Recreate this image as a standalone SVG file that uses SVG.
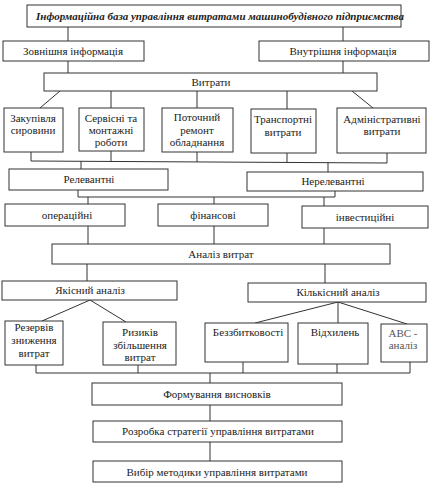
<svg xmlns="http://www.w3.org/2000/svg" width="433" height="485" viewBox="0 0 433 485">
<style>
rect{fill:#fff;stroke:#333;stroke-width:1}
#connectors line{stroke:#333;stroke-width:1;fill:none}
text{font-family:'Liberation Serif','Times New Roman','DejaVu Serif',serif;font-size:11px;fill:#222;text-anchor:middle}
.t{font-weight:bold;font-style:italic}
.g{fill:#555}
</style>
<rect x="0" y="0" width="433" height="485" style="fill:#fff;stroke:none"/>
<g id="connectors">
<line x1="68" y1="27" x2="68" y2="41"/>
<line x1="343" y1="27" x2="343" y2="41"/>
<line x1="68" y1="61" x2="68" y2="73"/>
<line x1="343" y1="61" x2="343" y2="73"/>
<line x1="60" y1="91" x2="40" y2="108"/>
<line x1="111" y1="91" x2="111" y2="108"/>
<line x1="197" y1="91" x2="197" y2="108"/>
<line x1="287" y1="91" x2="287" y2="109"/>
<line x1="352" y1="91" x2="373" y2="108"/>
<line x1="31" y1="152" x2="31" y2="161"/>
<line x1="111" y1="151" x2="111" y2="161"/>
<line x1="197" y1="152" x2="197" y2="162"/>
<line x1="287" y1="153" x2="287" y2="162"/>
<line x1="387" y1="153" x2="387" y2="163"/>
<line x1="31" y1="161" x2="387" y2="163"/>
<line x1="81" y1="161" x2="81" y2="169"/>
<line x1="328" y1="162" x2="328" y2="172"/>
<line x1="78" y1="190" x2="78" y2="197"/>
<line x1="335" y1="191" x2="335" y2="197"/>
<line x1="78" y1="197" x2="335" y2="197"/>
<line x1="88" y1="197" x2="88" y2="204"/>
<line x1="214" y1="197" x2="214" y2="204"/>
<line x1="324" y1="197" x2="324" y2="206"/>
<line x1="88" y1="226" x2="88" y2="244"/>
<line x1="214" y1="226" x2="214" y2="244"/>
<line x1="324" y1="228" x2="324" y2="244"/>
<line x1="87" y1="264" x2="87" y2="281"/>
<line x1="325" y1="264" x2="325" y2="283"/>
<line x1="90" y1="300" x2="42" y2="321"/>
<line x1="90" y1="300" x2="126" y2="322"/>
<line x1="338" y1="302" x2="255" y2="323"/>
<line x1="338" y1="302" x2="338" y2="323"/>
<line x1="338" y1="302" x2="407" y2="324"/>
<line x1="36" y1="365" x2="36" y2="373"/>
<line x1="138" y1="365" x2="138" y2="373"/>
<line x1="243" y1="362" x2="243" y2="373"/>
<line x1="337" y1="364" x2="337" y2="373"/>
<line x1="410" y1="362" x2="410" y2="373"/>
<line x1="36" y1="373" x2="410" y2="373"/>
<line x1="210" y1="373" x2="210" y2="383"/>
<line x1="210" y1="405" x2="210" y2="421"/>
<line x1="210" y1="442" x2="210" y2="461"/>
</g>
<g font-family="Liberation Serif, serif">
<g id="n-title"><rect x="27" y="5" width="374" height="22"/><text class="t" x="220" y="20">Інформаційна база управління витратами машинобудівного підприємства</text></g>
<g id="n-zovn"><rect x="3" y="41" width="141" height="20"/><text x="73" y="55">Зовнішня інформація</text></g>
<g id="n-vnutr"><rect x="259" y="41" width="170" height="20"/><text x="343" y="55">Внутрішня інформація</text></g>
<g id="n-vytraty"><rect x="44" y="73" width="333" height="18"/><text x="211" y="86">Витрати</text></g>
<g id="n-zakup"><rect x="4" y="108" width="59" height="44"/><text x="33" y="122">Закупівля</text><text x="33" y="134">сировини</text></g>
<g id="n-serv"><rect x="79" y="108" width="65" height="43"/><text x="111" y="122">Сервісні та</text><text x="111" y="134">монтажні</text><text x="111" y="146">роботи</text></g>
<g id="n-potoch"><rect x="162" y="108" width="71" height="44"/><text x="197" y="121">Поточний</text><text x="197" y="134">ремонт</text><text x="197" y="146">обладнання</text></g>
<g id="n-transp"><rect x="251" y="109" width="65" height="44"/><text x="283" y="123">Транспортні</text><text x="283" y="136">витрати</text></g>
<g id="n-admin"><rect x="337" y="108" width="89" height="45"/><text x="382" y="123">Адміністративні</text><text x="382" y="135">витрати</text></g>
<g id="n-relev"><rect x="9" y="169" width="159" height="21"/><text x="89" y="183">Релевантні</text></g>
<g id="n-nerelev"><rect x="247" y="172" width="176" height="19"/><text x="333" y="185">Нерелевантні</text></g>
<g id="n-oper"><rect x="5" y="204" width="120" height="22"/><text x="67" y="219">операційні</text></g>
<g id="n-fin"><rect x="158" y="204" width="110" height="22"/><text x="213" y="219">фінансові</text></g>
<g id="n-invest"><rect x="302" y="206" width="126" height="22"/><text x="365" y="221">інвестиційні</text></g>
<g id="n-analiz"><rect x="52" y="244" width="338" height="20"/><text x="221" y="258">Аналіз витрат</text></g>
<g id="n-yakis"><rect x="2" y="281" width="175" height="19"/><text x="90" y="294">Якісний аналіз</text></g>
<g id="n-kilk"><rect x="248" y="283" width="178" height="19"/><text x="338" y="296">Кількісний аналіз</text></g>
<g id="n-rezerv"><rect x="5" y="321" width="58" height="44"/><text x="34" y="331">Резервів</text><text x="34" y="344">зниження</text><text x="34" y="357">витрат</text></g>
<g id="n-ryzyk"><rect x="103" y="322" width="73" height="43"/><text x="140" y="336">Ризиків</text><text x="140" y="349">збільшення</text><text x="140" y="361">витрат</text></g>
<g id="n-bezz"><rect x="205" y="323" width="83" height="39"/><text x="248" y="336">Беззбитковості</text></g>
<g id="n-vidkh"><rect x="298" y="323" width="70" height="41"/><text x="335" y="336">Відхилень</text></g>
<g id="n-abc"><rect x="381" y="324" width="46" height="38"/><text class="g" x="403" y="337">АВС -</text><text class="g" x="403" y="349">аналіз</text></g>
<g id="n-form"><rect x="92" y="383" width="250" height="22"/><text x="217" y="398">Формування висновків</text></g>
<g id="n-rozr"><rect x="93" y="421" width="249" height="21"/><text x="218" y="435">Розробка стратегії управління витратами</text></g>
<g id="n-vybir"><rect x="93" y="461" width="249" height="21"/><text x="217" y="476">Вибір методики управління витратами</text></g>
</g>
</svg>
